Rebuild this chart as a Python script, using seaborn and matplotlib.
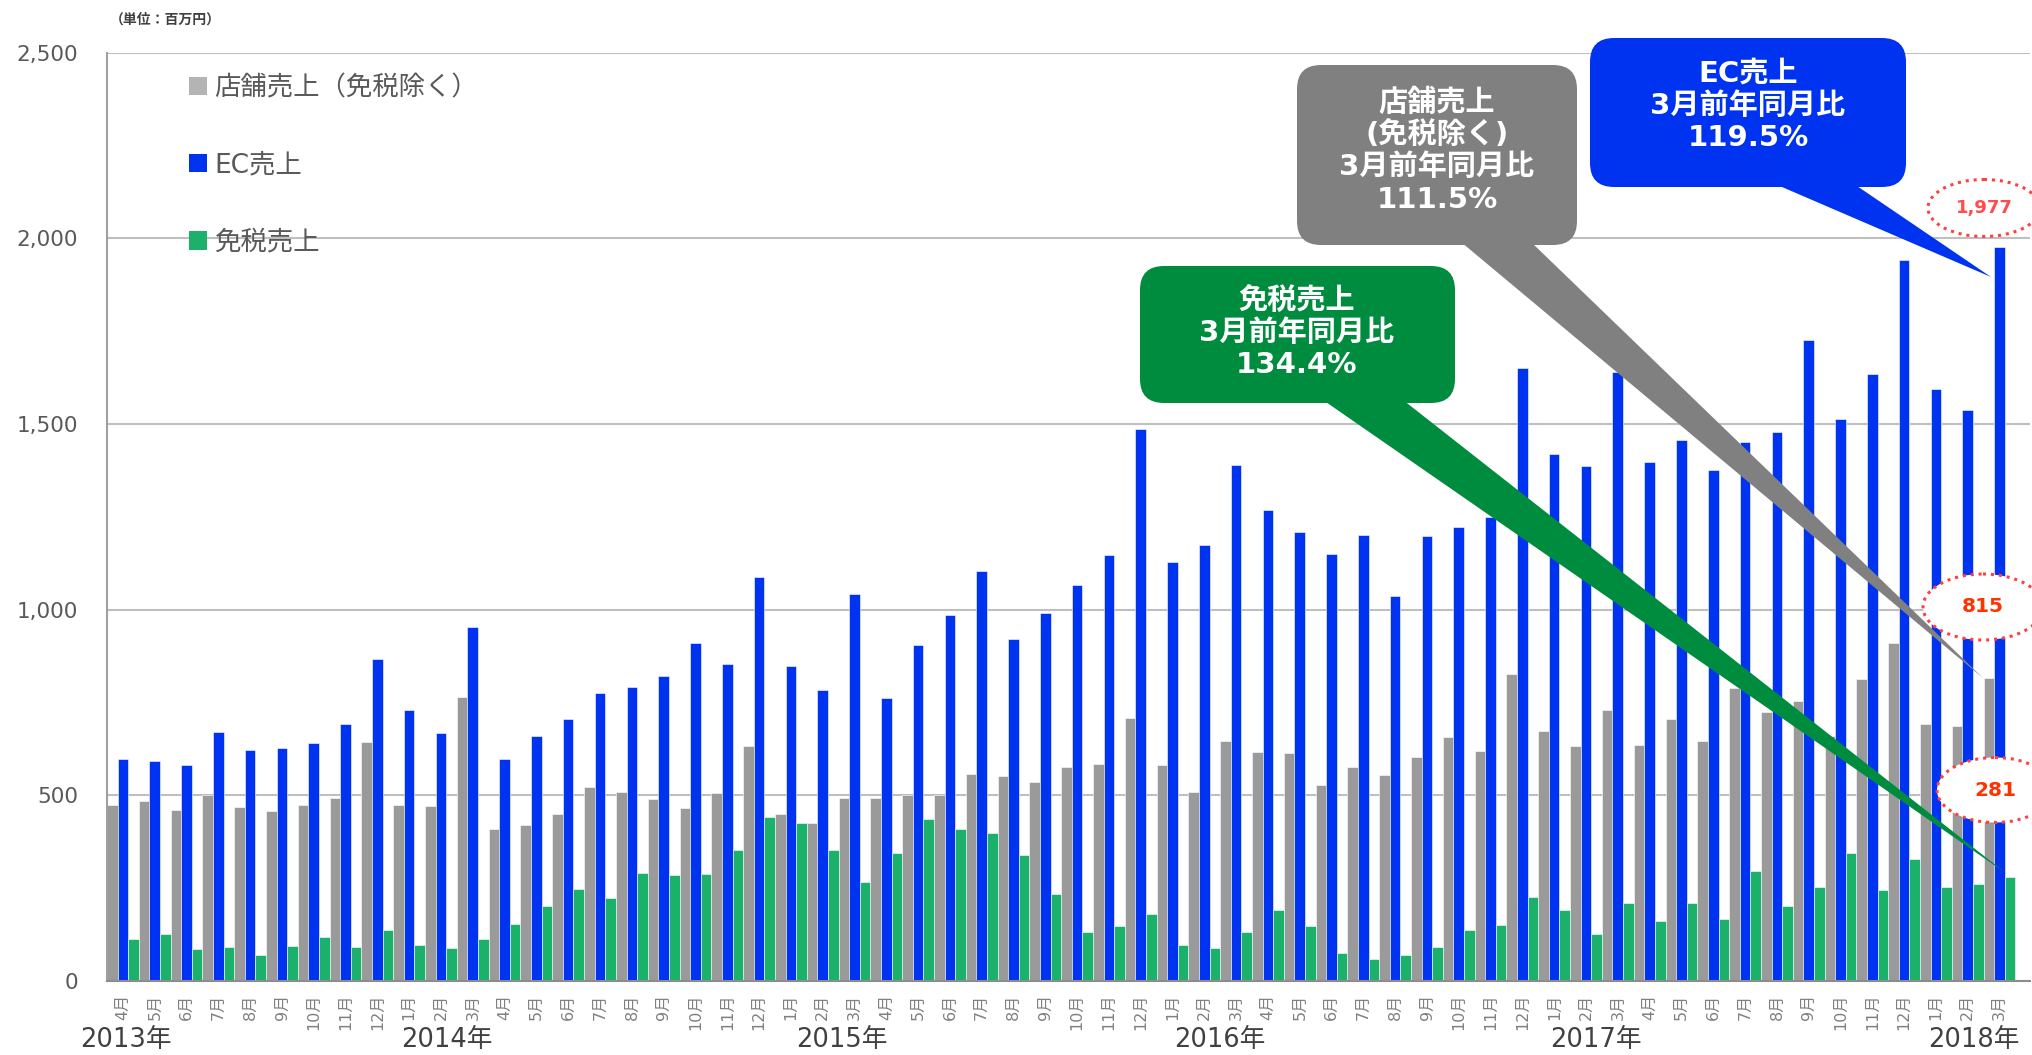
import numpy as np
import pandas as pd
import seaborn as sns
import matplotlib.pyplot as plt
from matplotlib.patches import FancyBboxPatch, Polygon, Ellipse, Patch

sns.set_style('white')
plt.rcParams['font.family'] = ['DejaVu Sans', 'Noto Sans CJK JP']

# 月次売上（単位：百万円） 2013年4月 - 2018年3月
months = pd.date_range('2013-04-01', periods=60, freq='MS')

store = [475, 486, 461, 500, 469, 459, 475, 492, 644,
         475, 472, 765, 409, 420, 451, 523, 510, 489, 465, 506, 634,
         451, 426, 492, 492, 502, 502, 558, 551, 537, 575, 585, 707,
         582, 510, 647, 617, 613, 527, 575, 555, 602, 657, 619, 827,
         673, 633, 730, 635, 706, 646, 790, 725, 755, 661, 812, 909,
         692, 687, 815]

ec = [598, 592, 581, 671, 623, 627, 641, 692, 867,
      730, 668, 953, 598, 661, 706, 775, 792, 821, 910, 853, 1088,
      848, 783, 1042, 762, 905, 986, 1104, 921, 991, 1066, 1147, 1486,
      1128, 1174, 1389, 1268, 1209, 1150, 1201, 1037, 1198, 1222, 1250, 1650,
      1419, 1387, 1640, 1397, 1457, 1376, 1451, 1479, 1727, 1514, 1636, 1941,
      1594, 1538, 1977]

taxfree = [112, 126, 85, 91, 70, 94, 119, 91, 137,
           98, 88, 112, 154, 202, 247, 223, 291, 285, 289, 354, 443,
           426, 353, 267, 344, 437, 409, 398, 340, 233, 133, 147, 181,
           98, 88, 133, 192, 147, 75, 60, 70, 91, 137, 150, 226,
           192, 126, 209, 161, 209, 167, 295, 201, 254, 344, 244, 329,
           254, 261, 281]

series_names = ['店舗売上（免税除く）', 'EC売上', '免税売上']
bar_colors = ['#9A9A9A', '#0033F0', '#1CB16A']
legend_colors = ['#B4B4B4', '#0033F0', '#1CB16A']

year_labels = ['2013年', '2014年', '2015年', '2016年', '2017年', '2018年']
year_pos = [0.1, 10.2, 22.6, 34.5, 46.3, 58.2]

callout_texts = ['免税売上\n3月前年同月比\n134.4%',
                 '店舗売上\n(免税除く)\n3月前年同月比\n111.5%',
                 'EC売上\n3月前年同月比\n119.5%']

month_keys = [d.strftime('%Y-%m') for d in months]
month_labels = [f'{d.month}月' for d in months]

df = pd.DataFrame({
    'month': month_keys * 3,
    'series': np.repeat(series_names, len(month_keys)),
    'value': store + ec + taxfree,
})

W, H = 2033, 1055
fig = plt.figure(figsize=(W / 100, H / 100), dpi=100)
ax = fig.add_axes([107 / W, (H - 981) / H, (2030 - 107) / W, (981 - 52.7) / H])

sns.barplot(data=df, x='month', y='value', hue='series', order=month_keys,
            hue_order=series_names, palette=bar_colors, width=1.0, gap=0,
            saturation=1, errorbar=None, edgecolor='white', linewidth=0.4,
            legend=False, ax=ax)

ax.set_xlim(-0.5, 59.96)
ax.set_ylim(0, 2500)
ax.set_yticks(range(0, 2501, 500))
ax.set_yticklabels([f'{v:,}' for v in range(0, 2501, 500)], fontsize=15.5, color='#595959')
ax.set_xticks(range(len(month_keys)))
ax.set_xticklabels(month_labels, rotation=90, fontsize=11.5, color='#808080')
ax.tick_params(axis='x', length=0, pad=9)
ax.tick_params(axis='y', length=8, width=1.5, color='#BFBFBF', pad=13)
ax.set_xlabel('')
ax.set_ylabel('')
ax.yaxis.grid(True, color='#BFBFBF', lw=1.5)
ax.set_axisbelow(True)
for s in ['top', 'right']:
    ax.spines[s].set_visible(False)
ax.spines['left'].set_color('#A0A0A0')
ax.spines['left'].set_linewidth(1.5)
ax.spines['bottom'].set_color('#8C8C8C')
ax.spines['bottom'].set_linewidth(1.5)

for lab, xp in zip(year_labels, year_pos):
    ax.text(xp, -0.0636, lab, transform=ax.get_xaxis_transform(), ha='center',
            va='center', fontsize=18.5, color='#404040')

handles = [Patch(facecolor=c, edgecolor='none') for c in legend_colors]
leg = ax.legend(handles, series_names, loc='upper left',
                bbox_to_anchor=(189 / W, 1 - 75 / H), bbox_transform=fig.transFigure,
                frameon=False, fontsize=19, handlelength=0.7, handleheight=0.7,
                handletextpad=0.25, labelspacing=1.95, borderpad=0, borderaxespad=0)
for t in leg.get_texts():
    t.set_color('#595959')

fig.text(110 / W, 1 - 20 / H, '（単位：百万円）', fontsize=10, fontweight='bold',
         color='#404040', ha='left', va='center')

# 吹き出し（ピクセル座標のオーバーレイ）
ov = fig.add_axes([0, 0, 1, 1], zorder=5)
ov.set_xlim(0, W)
ov.set_ylim(H, 0)
ov.axis('off')
ov.patch.set_alpha(0)

boxes = [
    dict(box=(1140, 266, 1455, 403), wedge=[(1323, 400), (1403, 400), (2007, 874)],
         color='#008C3E', center=(1297, 333)),
    dict(box=(1297, 65, 1577, 245), wedge=[(1461, 242), (1531, 242), (1983, 678)],
         color='#808080', center=(1437, 151)),
    dict(box=(1590, 38, 1906, 187), wedge=[(1775, 184), (1854, 184), (1991, 277)],
         color='#0033F0', center=(1748, 106)),
]
for b, txt in zip(boxes, callout_texts):
    x0, y0, x1, y1 = b['box']
    ov.add_patch(Polygon(b['wedge'], closed=True, facecolor=b['color'], edgecolor='none'))
    ov.add_patch(FancyBboxPatch((x0, y0), x1 - x0, y1 - y0,
                                boxstyle='round,pad=0,rounding_size=24',
                                facecolor=b['color'], edgecolor='none'))
    ov.text(b['center'][0], b['center'][1], txt, ha='center', va='center',
            fontsize=21, fontweight='bold', color='white', linespacing=1.2)

# 最新月の値（点線の楕円）
marks = [((1984, 208), 112, 57, f'{ec[-1]:,}', 13, '#FF4B4B'),
         ((1983, 607), 120, 66, f'{store[-1]:,}', 14.5, '#FF3300'),
         ((1995, 790), 116, 65, f'{taxfree[-1]:,}', 14.5, '#FF3300')]
for (cx, cy), w, h, txt, fs, tc in marks:
    ov.add_patch(Ellipse((cx, cy), w, h, facecolor='white', edgecolor='#FF4040',
                         lw=2.2, linestyle=(0, (1, 1.6))))
    ov.text(cx, cy, txt, ha='center', va='center', fontsize=fs,
            fontweight='bold', color=tc)

fig.savefig('out.png', dpi=100)
